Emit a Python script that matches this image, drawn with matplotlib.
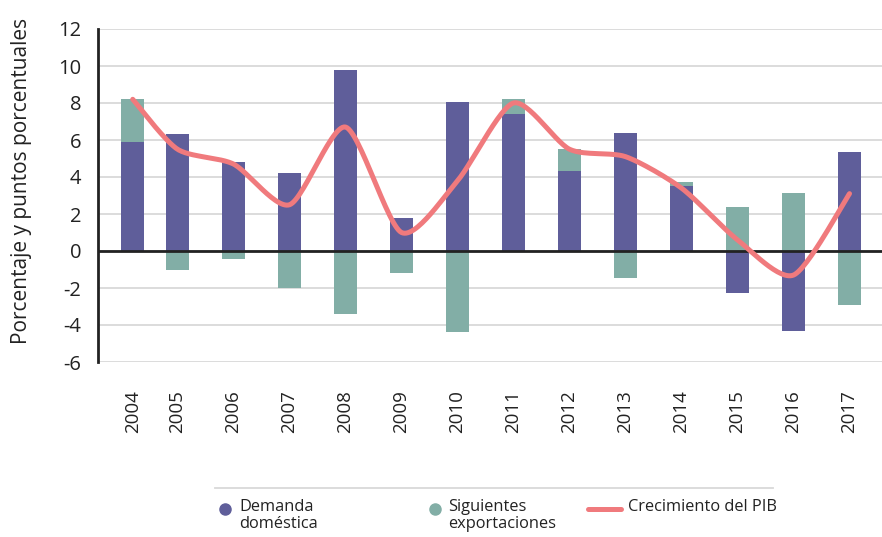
import numpy as np
import matplotlib
matplotlib.use("Agg")
import matplotlib.pyplot as plt
from matplotlib.lines import Line2D

plt.rcParams['font.family'] = ['Open Sans', 'DejaVu Sans']
plt.rcParams['axes.unicode_minus'] = False

years = [str(y) for y in range(2004, 2018)]
demanda = [5.9, 6.3, 4.8, 4.2, 9.8, 1.8, 8.05, 7.4, 4.3, 6.4, 3.5, -2.27, -4.32, 5.35]
exportaciones = [2.3, -1.03, -0.43, -1.98, -3.41, -1.19, -4.38, 0.81, 1.19, -1.44, 0.22, 2.38, 3.14, -2.92]
pib = [8.2, 5.5, 4.7, 2.5, 6.7, 1.0, 3.8, 8.0, 5.5, 5.1, 3.4, 0.6, -1.3, 3.1]

c_dem = '#5f5e9a'
c_exp = '#82aea6'
c_pib = '#f07a7d'
c_txt = '#222222'


def smooth(x, y, steps=30, k=8.0):
    # bezier smoothing like the spreadsheet "smoothed line" option
    pts = np.column_stack([x, y])
    pts = np.vstack([pts[0], pts, pts[-1]])
    out = []
    t = np.linspace(0, 1, steps)[:, None]
    for i in range(1, len(pts) - 2):
        p0, p1, p2, p3 = pts[i - 1:i + 3]
        c1 = p1 + (p2 - p0) / k
        c2 = p2 - (p3 - p1) / k
        seg = (1 - t) ** 3 * p1 + 3 * (1 - t) ** 2 * t * c1 + 3 * (1 - t) * t ** 2 * c2 + t ** 3 * p2
        out.append(seg)
    return np.vstack(out)


fig = plt.figure(figsize=(8.82, 5.37), dpi=100)
ax = fig.add_axes([98 / 882, 1 - 362 / 537, 1 - 98 / 882, (362 - 29) / 537])

x = np.arange(len(years), dtype=float)
x[0] += 0.2  # first category sits a little off in the original

dem = np.array(demanda)
exp = np.array(exportaciones)
exp_bottom = np.where(exp >= 0, np.maximum(dem, 0), np.minimum(dem, 0))

w = 0.41
ax.bar(x, dem, width=w, color=c_dem, zorder=2)
ax.bar(x, exp, width=w, bottom=exp_bottom, color=c_exp, zorder=2)

curve = smooth(x, pib)
ax.plot(curve[:, 0], curve[:, 1], color=c_pib, lw=3.6, solid_capstyle='round',
        solid_joinstyle='round', zorder=4)

ax.axhline(0, color='#222222', lw=2, zorder=3)
ax.set_ylim(-6, 12)
ax.set_xlim(-0.42, 13.58)
ax.set_yticks(range(-6, 13, 2))
ax.yaxis.grid(True, color='#d9d9d9', lw=1.3, zorder=0)
ax.set_axisbelow(True)

ax.set_xticks(x)
ax.set_xticklabels(years, rotation=90, fontsize=13.5, color=c_txt)
ax.tick_params(axis='x', length=0, pad=20)
ax.tick_params(axis='y', length=0, pad=12, labelsize=14.5, labelcolor=c_txt)

for s in ['top', 'right', 'bottom']:
    ax.spines[s].set_visible(False)
ax.spines['left'].set_color('#222222')
ax.spines['left'].set_linewidth(2)

fig.text(22 / 882, 1 - 181 / 537, 'Porcentaje y puntos porcentuales', rotation=90,
         ha='center', va='center', fontsize=15, color=c_txt)

# legend drawn by hand, separator line on top
fig.add_artist(Line2D([215 / 882, 773 / 882], [1 - 488 / 537, 1 - 488 / 537],
                      transform=fig.transFigure, color='#d9d9d9', lw=1.3))
ly = 1 - 509 / 537
fig.add_artist(Line2D([225 / 882], [ly], transform=fig.transFigure, marker='o',
                      markersize=8, color=c_dem, lw=0))
fig.add_artist(Line2D([435 / 882], [ly], transform=fig.transFigure, marker='o',
                      markersize=8, color=c_exp, lw=0))
fig.add_artist(Line2D([588 / 882, 621 / 882], [ly, ly], transform=fig.transFigure,
                      color=c_pib, lw=3.6, solid_capstyle='round'))
for tx, label in [(239, 'Demanda\ndoméstica'), (448, 'Siguientes\nexportaciones'),
                  (628, 'Crecimiento del PIB')]:
    fig.text(tx / 882, 1 - 499 / 537, label, ha='left', va='top', fontsize=11.8,
             color=c_txt, linespacing=1.1)

fig.savefig('out.png', dpi=100)
